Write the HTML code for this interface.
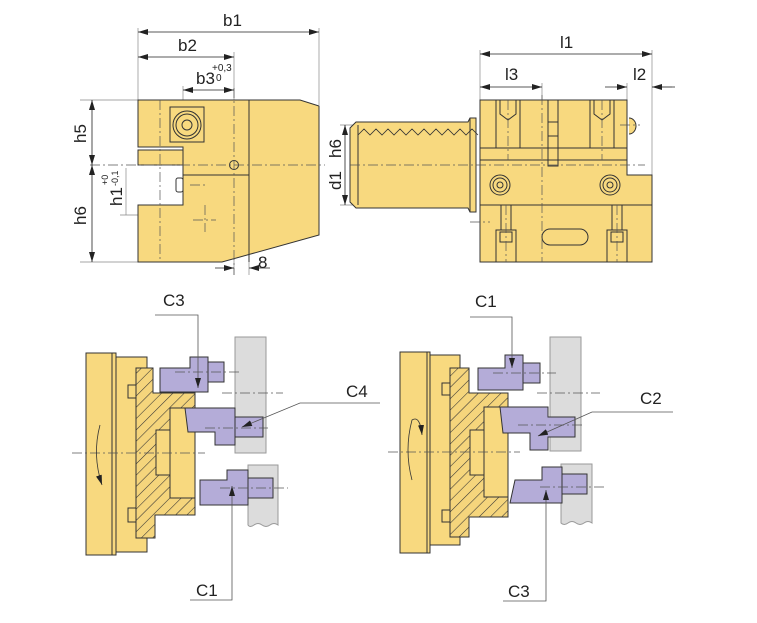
<!DOCTYPE html>
<html><head><meta charset="utf-8"><style>
html,body{margin:0;padding:0;background:#fff;}
svg{display:block;font-family:"Liberation Sans",sans-serif;}
</style></head><body>
<svg width="757" height="623" viewBox="0 0 757 623" xmlns="http://www.w3.org/2000/svg">
<defs>
<marker id="a" viewBox="0 0 10 6" refX="10" refY="3" markerWidth="10" markerHeight="6" orient="auto-start-reverse" markerUnits="userSpaceOnUse"><path d="M0,0L10,3L0,6z" fill="#222"/></marker>
<pattern id="h" width="8" height="8" patternUnits="userSpaceOnUse" patternTransform="rotate(45)"><rect width="8" height="8" fill="#f5d57c"/><line x1="0" y1="0" x2="0" y2="8" stroke="#333" stroke-width="1.1"/></pattern>
</defs>
<g stroke="#333" stroke-width="1" fill="none">
<!-- ===== Top-left view ===== -->
<g stroke="#888" stroke-width="0.7">
<line x1="138" y1="28" x2="138" y2="100"/><line x1="319" y1="28" x2="319" y2="105"/>
<line x1="234" y1="52" x2="234" y2="275"/><line x1="183" y1="86" x2="183" y2="100"/>
<line x1="80" y1="100" x2="138" y2="100"/><line x1="80" y1="262" x2="222" y2="262"/>
<line x1="126" y1="168" x2="126" y2="215"/><line x1="120" y1="215" x2="138" y2="215"/>
<line x1="249" y1="262" x2="249" y2="275"/>
</g>
<polygon points="138,100 300,100 319,106 319,235 222,262 138,262 138,205 183,205 183,165 138,165 138,150 183,150 183,147 138,147" fill="#f8d97f"/>
<line x1="183" y1="147" x2="183" y2="205"/>
<line x1="249" y1="100" x2="249" y2="262"/>
<line x1="183" y1="175" x2="249" y2="175"/>
<rect x="170" y="107" width="34" height="35"/>
<circle cx="187" cy="125" r="14"/><circle cx="187" cy="125" r="11"/><circle cx="187" cy="125" r="5"/>
<circle cx="234" cy="165" r="4.5"/>
<rect x="176" y="178" width="7" height="14" rx="2"/>
<g stroke="#555" stroke-width="0.7" stroke-dasharray="10,3,2,3">
<line x1="90" y1="165" x2="325" y2="165"/>
<line x1="160" y1="100" x2="160" y2="262"/>
<line x1="234" y1="88" x2="234" y2="275"/>
<line x1="190" y1="185" x2="205" y2="185"/>
<line x1="205" y1="205" x2="205" y2="232"/><line x1="193" y1="220" x2="216" y2="220"/>
</g>
<g stroke="#222" stroke-width="0.8">
<line x1="138" y1="32" x2="319" y2="32" marker-start="url(#a)" marker-end="url(#a)"/>
<line x1="138" y1="57" x2="234" y2="57" marker-start="url(#a)" marker-end="url(#a)"/>
<line x1="183" y1="90" x2="234" y2="90" marker-start="url(#a)" marker-end="url(#a)"/>
<line x1="92" y1="100" x2="92" y2="165" marker-start="url(#a)" marker-end="url(#a)"/>
<line x1="92" y1="165" x2="92" y2="262" marker-start="url(#a)" marker-end="url(#a)"/>
<line x1="215" y1="268" x2="234" y2="268" marker-end="url(#a)"/>
<line x1="270" y1="268" x2="249" y2="268" marker-end="url(#a)"/>
</g>
<!-- ===== Top-right view ===== -->
<g stroke="#888" stroke-width="0.7">
<line x1="480" y1="50" x2="480" y2="100"/><line x1="652" y1="50" x2="652" y2="175"/>
<line x1="542" y1="83" x2="542" y2="100"/><line x1="627" y1="83" x2="627" y2="100"/>
<line x1="340" y1="125" x2="470" y2="125"/><line x1="340" y1="205" x2="470" y2="205"/>
<line x1="652" y1="87" x2="672" y2="87"/>
</g>
<path d="M350,128 L356,122 L468,122 L470,118 L476,118 L476,212 L470,212 L468,208 L356,208 L350,202 Z" fill="#f8d97f"/>
<path d="M358,135 l6,-6 6,6 6,-6 6,6 6,-6 6,6 6,-6 6,6 6,-6 6,6 6,-6 6,6 6,-6 6,6 6,-6 6,6 6,-6 6,6 6,-6 6,6" stroke-width="0.8"/>
<line x1="358" y1="125" x2="358" y2="205"/><line x1="470" y1="118" x2="470" y2="212"/>
<polygon points="480,100 627,100 627,175 652,175 652,262 480,262" fill="#f8d97f"/>
<line x1="480" y1="148" x2="627" y2="148"/><line x1="480" y1="160" x2="627" y2="160"/>
<line x1="480" y1="205" x2="652" y2="205"/>
<rect x="496" y="100" width="24" height="48"/><rect x="590" y="100" width="24" height="48"/>
<path d="M500,100v14l8,6 8,-6v-14M594,100v14l8,6 8,-6v-14"/>
<rect x="548" y="100" width="10" height="66"/>
<rect x="548" y="122" width="10" height="14" fill="#f8d97f"/>
<path d="M629,118 a7,8 0 0 1 0,16" fill="#f8d97f"/>
<circle cx="500" cy="185" r="10"/><circle cx="500" cy="185" r="7"/><circle cx="500" cy="185" r="3"/>
<circle cx="610" cy="185" r="10"/><circle cx="610" cy="185" r="7"/><circle cx="610" cy="185" r="3"/>
<rect x="501" y="205" width="10" height="25"/><rect x="612" y="205" width="10" height="25"/>
<rect x="496" y="230" width="20" height="32"/><rect x="607" y="230" width="20" height="32"/>
<rect x="500" y="232" width="12" height="10"/><rect x="611" y="232" width="12" height="10"/>
<rect x="542" y="229" width="46" height="16" rx="8"/>
<g stroke="#555" stroke-width="0.7" stroke-dasharray="10,3,2,3">
<line x1="350" y1="165" x2="645" y2="165"/>
<line x1="542" y1="95" x2="542" y2="262"/>
<line x1="508" y1="100" x2="508" y2="160"/><line x1="602" y1="100" x2="602" y2="160"/>
<line x1="620" y1="125" x2="640" y2="125"/>
<line x1="470" y1="222" x2="490" y2="222"/>
<line x1="506" y1="205" x2="506" y2="262"/><line x1="617" y1="205" x2="617" y2="262"/>
</g>
<g stroke="#222" stroke-width="0.8">
<line x1="480" y1="54" x2="652" y2="54" marker-start="url(#a)" marker-end="url(#a)"/>
<line x1="480" y1="87" x2="542" y2="87" marker-start="url(#a)" marker-end="url(#a)"/>
<line x1="605" y1="87" x2="627" y2="87" marker-end="url(#a)"/>
<line x1="675" y1="87" x2="652" y2="87" marker-end="url(#a)"/>
<line x1="345" y1="125" x2="345" y2="205" marker-start="url(#a)" marker-end="url(#a)"/>
</g>
<!-- ===== Bottom-left ===== -->
<rect x="235" y="337" width="31" height="116" fill="#dcdcdc" stroke="#999"/>
<path d="M248,465 H278 V525 q-4,-3 -8,0 t-8,0 t-8,0 t-6,0 Z" fill="#dcdcdc" stroke="#999"/>
<rect x="86" y="353" width="30" height="202" fill="#f8d97f"/>
<line x1="112" y1="353" x2="112" y2="555"/>
<rect x="116" y="357" width="31" height="195" fill="#f8d97f"/>
<polyline points="136,385 128,385 128,398 136,398"/>
<polyline points="136,508 128,508 128,522 136,522"/>
<polygon points="136,368 153,368 153,393 195,393 195,515 155,515 155,538 136,538" fill="url(#h)"/>
<rect x="170" y="408" width="25" height="90" fill="#f8d97f"/>
<rect x="156" y="430" width="14" height="45" fill="#f8d97f"/>
<g fill="#b4acd8">
<path d="M160,368 H190 V357 H208 V392 H160 Z"/><rect x="208" y="362" width="16" height="20"/>
<path d="M185,408 H235 V445 H215 V432 H188 Z"/><rect x="235" y="417" width="28" height="20"/>
<path d="M200,480 H227 V470 H248 V505 H200 Z"/><rect x="248" y="478" width="25" height="20"/>
</g>
<g stroke="#555" stroke-width="0.7" stroke-dasharray="10,3,2,3">
<line x1="72" y1="453" x2="205" y2="453"/>
<line x1="222" y1="393" x2="283" y2="393"/>
<line x1="175" y1="372" x2="242" y2="372"/>
<line x1="205" y1="428" x2="268" y2="428"/>
<line x1="220" y1="488" x2="288" y2="488"/>
</g>
<path d="M100,425 q-8,30 2,60" stroke-width="0.8" marker-end="url(#a)"/>
<g stroke="#555" stroke-width="0.8">
<polyline points="155,315 198,315 198,388" marker-end="url(#a)"/>
<polyline points="380,403 300,403 242,427" marker-end="url(#a)"/>
<polyline points="190,600 232,600 232,486" marker-end="url(#a)"/>
</g>
<!-- ===== Bottom-right ===== -->
<rect x="550" y="337" width="31" height="114" fill="#dcdcdc" stroke="#999"/>
<path d="M561,464 H592 V523 q-4,-3 -8,0 t-8,0 t-8,0 t-7,0 Z" fill="#dcdcdc" stroke="#999"/>
<rect x="400" y="352" width="30" height="201" fill="#f8d97f"/>
<line x1="427" y1="352" x2="427" y2="553"/>
<rect x="430" y="355" width="30" height="190" fill="#f8d97f"/>
<polyline points="450,383 442,383 442,395 450,395"/>
<polyline points="450,510 442,510 442,522 450,522"/>
<polygon points="450,368 469,368 469,393 508,393 508,517 469,517 469,537 450,537" fill="url(#h)"/>
<rect x="484" y="407" width="24" height="90" fill="#f8d97f"/>
<rect x="470" y="430" width="14" height="45" fill="#f8d97f"/>
<g fill="#b4acd8">
<path d="M478,368 H505 V355 H523 V390 H478 Z"/><rect x="523" y="363" width="17" height="20"/>
<path d="M500,407 H548 V417 H575 V437 H548 V450 H530 V433 H503 Z"/>
<path d="M515,480 H542 V467 H562 V503 H510 Z"/><rect x="562" y="474" width="25" height="20"/>
</g>
<g stroke="#555" stroke-width="0.7" stroke-dasharray="10,3,2,3">
<line x1="388" y1="452" x2="520" y2="452"/>
<line x1="537" y1="393" x2="600" y2="393"/>
<line x1="493" y1="373" x2="556" y2="373"/>
<line x1="518" y1="425" x2="582" y2="425"/>
<line x1="540" y1="487" x2="605" y2="487"/>
</g>
<path d="M412,480 q-8,-30 0,-60 q8,-5 10,15" stroke-width="0.8" marker-end="url(#a)"/>
<g stroke="#555" stroke-width="0.8">
<polyline points="470,317 512,317 512,368" marker-end="url(#a)"/>
<polyline points="673,412 592,412 538,436" marker-end="url(#a)"/>
<polyline points="503,601 546,601 546,490" marker-end="url(#a)"/>
</g>
</g>
<g fill="#222" font-size="17">
<text x="223" y="26">b1</text><text x="178" y="51">b2</text><text x="196" y="84">b3</text>
<text x="212" y="71" font-size="10">+0,3</text><text x="216" y="81" font-size="10">0</text>
<text x="258" y="268">8</text>
<text transform="translate(86,143) rotate(-90)">h5</text>
<text transform="translate(86,225) rotate(-90)">h6</text>
<text transform="translate(122,206) rotate(-90)">h1</text>
<text transform="translate(108,185) rotate(-90)" font-size="9">+0</text>
<text transform="translate(118,186) rotate(-90)" font-size="9">-0,1</text>
<text transform="translate(341,158) rotate(-90)">h6</text>
<text transform="translate(341,190) rotate(-90)">d1</text>
<text x="560" y="48">l1</text><text x="505" y="80">l3</text><text x="633" y="80">l2</text>
<text x="163" y="306">C3</text><text x="346" y="397">C4</text><text x="196" y="596">C1</text>
<text x="475" y="307">C1</text><text x="640" y="404">C2</text><text x="508" y="597">C3</text>
</g>
</svg>
</body></html>
